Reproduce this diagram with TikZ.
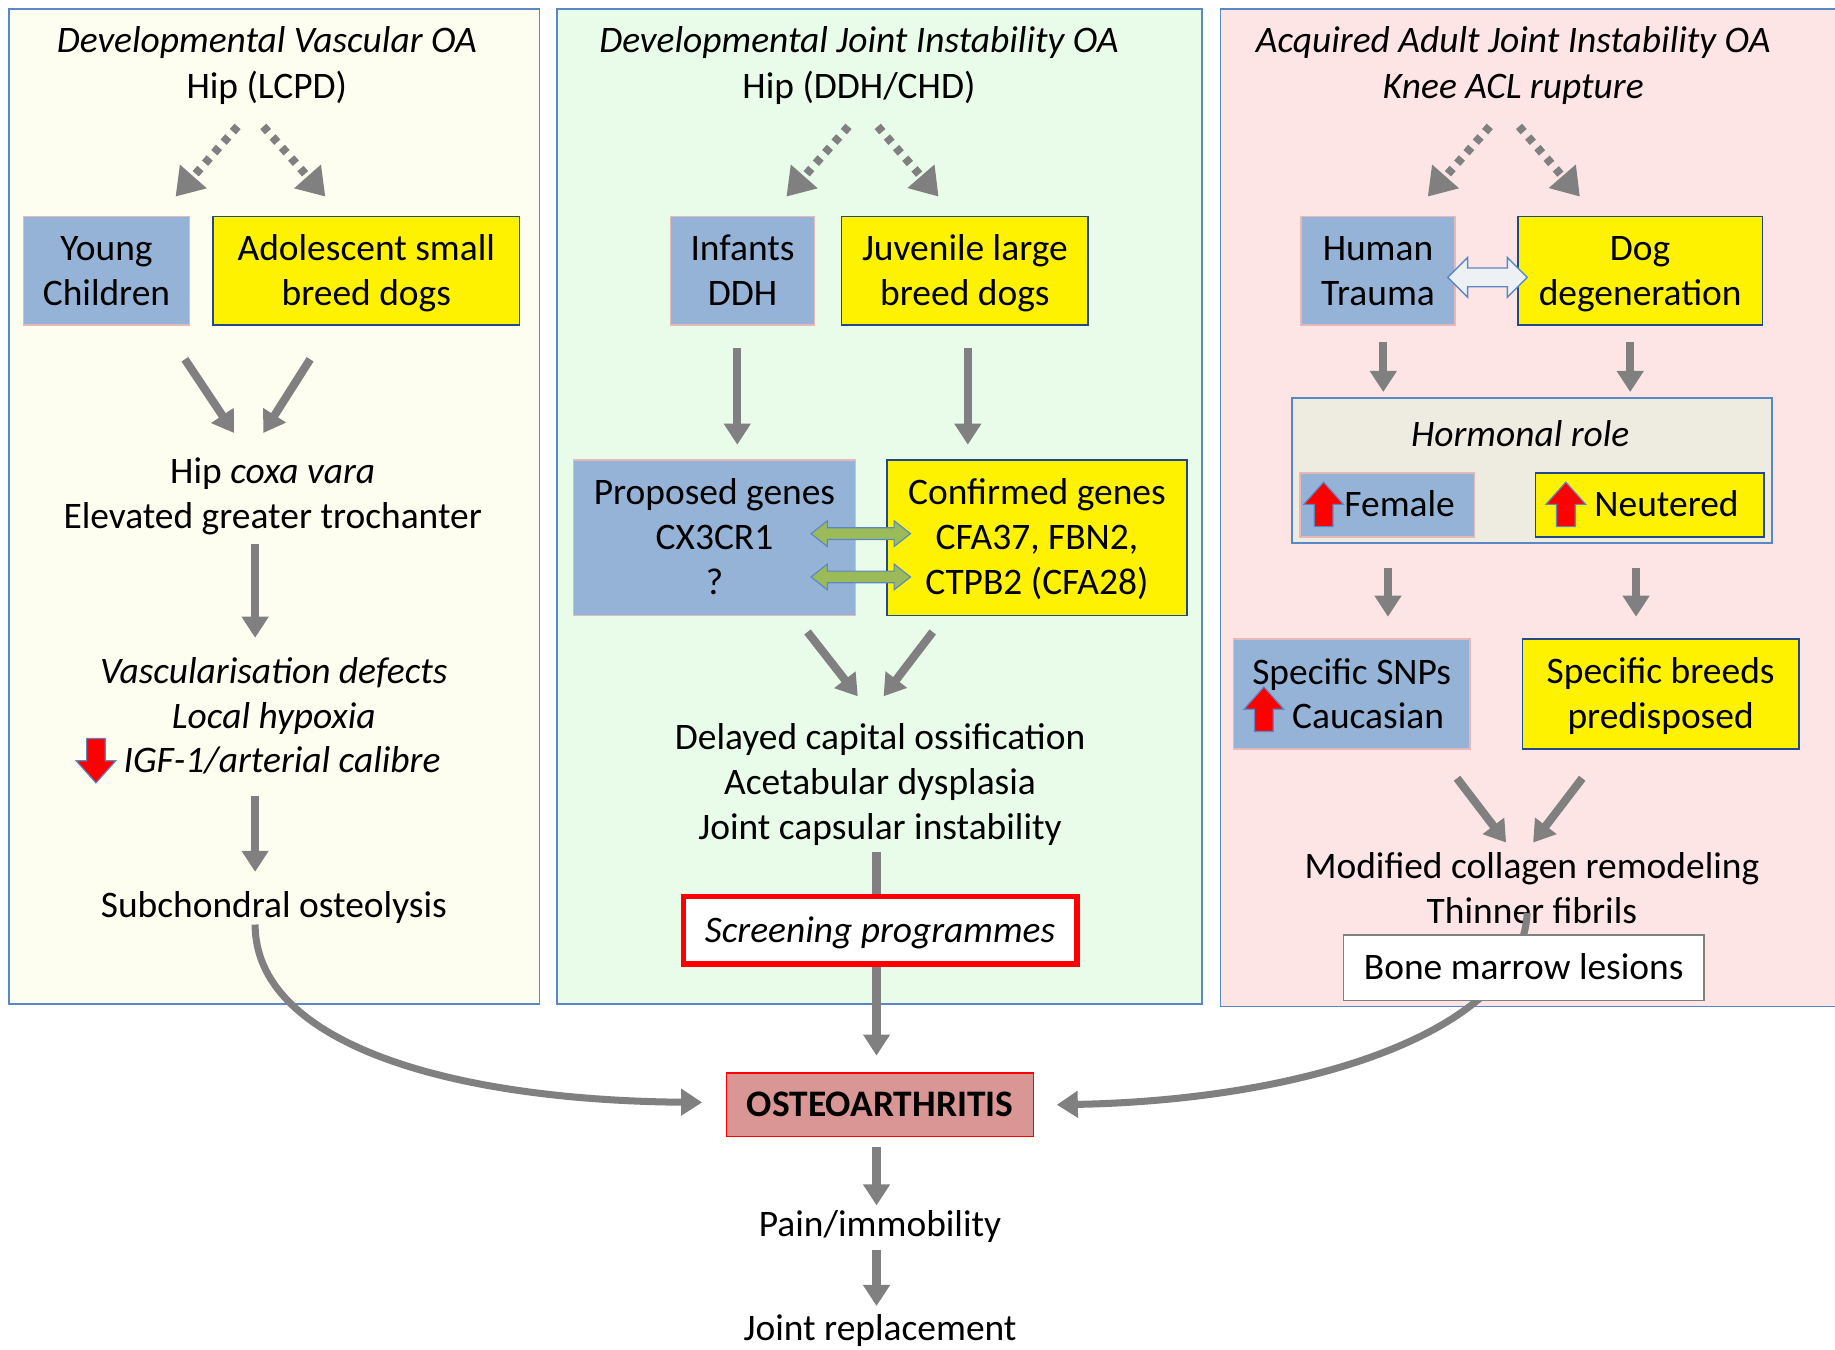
\documentclass[tikz,border=0pt]{standalone}
\usepackage{fontspec}
\setmainfont{Carlito}
\usetikzlibrary{arrows.meta}
\definecolor{panelY}{HTML}{FEFEF0}
\definecolor{panelG}{HTML}{E9FBE9}
\definecolor{panelR}{HTML}{FDE5E5}
\definecolor{pborder}{HTML}{5A88C6}
\definecolor{boxblue}{HTML}{95B3D7}
\definecolor{boxpink}{HTML}{E6B9B8}
\definecolor{boxnavy}{HTML}{24498A}
\definecolor{hrfill}{HTML}{EEECE1}
\definecolor{oafill}{HTML}{D99694}
\definecolor{arrgray}{HTML}{808080}
\definecolor{dgreen}{HTML}{9BBB59}
\definecolor{dblfill}{HTML}{EEF1F4}
\newcommand\fs{\fontsize{32}{38.5}\selectfont}
\newcommand\ls{\rule[-0.25em]{0pt}{1.14em}}
\newcommand\nl{\\\ls}
\tikzset{
  txt/.style={inner sep=0pt, align=center, font=\fs},
  box/.style={txt, line width=1.5pt},
  bluebox/.style={box, fill=boxblue, draw=boxpink},
  yelbox/.style={box, fill=yellow, draw=boxnavy},
  panel/.style={draw=pborder, line width=1.5pt},
  arr/.style={draw=arrgray, line width=7pt, -{Triangle[width=22pt,length=18pt]}},
  carr/.style={draw=arrgray, line width=6pt, -{Triangle[width=22pt,length=18pt]}},
  dotarr/.style={draw=arrgray, line width=7pt, dash pattern=on 6pt off 6pt, -{Triangle[width=29pt,length=23pt]}},
  redarrow/.style={fill=red, draw=pborder, line width=1pt, line join=miter},
  uparrow/.pic={\path[redarrow] (-8,19) -- (-8,0) -- (-17,0) -- (0,-19) -- (17,0) -- (8,0) -- (8,19) -- cycle;},
  downarrow/.pic={\path[redarrow] (-8,-19) -- (-8,0) -- (-17,0) -- (0,19) -- (17,0) -- (8,0) -- (8,-19) -- cycle;},
}
\begin{document}
\begin{tikzpicture}[x=1pt,y=-1pt]
\useasboundingbox (0,0) rectangle (1568,1153);
\fill[white] (0,0) rectangle (1568,1153);
% panels
\path[panel, fill=panelY] (8,8) rectangle (461,858);
\path[panel, fill=panelG] (476,8) rectangle (1027,858);
\path[panel, fill=panelR] (1043,8) rectangle (1590,860);

% ---------- panel 1 ----------
\node[txt, font=\fs\itshape] (t1a) at (228,35) {\ls Developmental Vascular OA};
\node[txt] (t1b) at (228,74) {\ls Hip (LCPD)};
\node[bluebox, minimum width=142pt, minimum height=93pt] (yc) at (91,231.5) {\ls Young\nl Children};
\node[yelbox, minimum width=262pt, minimum height=93pt] (asb) at (313,231.5) {\ls Adolescent small\nl breed dogs};
\node[txt] (hcv) at (233,422) {\ls Hip \textit{coxa vara}\nl Elevated greater trochanter};
\node[txt, font=\fs\itshape] (vd) at (234,593) {\ls Vascularisation defects\nl Local hypoxia};
\node[txt, font=\fs\itshape] (igf) at (241,650) {\ls IGF-1/arterial calibre};
\pic at (82,650) {downarrow};
\node[txt] (so) at (234,774) {\ls Subchondral osteolysis};

\coordinate (d1a) at (203,108); \coordinate (d1b) at (150,168);
\coordinate (d1c) at (225,108); \coordinate (d1d) at (278,168);
\draw[dotarr] (d1a) -- (d1b);
\draw[dotarr] (d1c) -- (d1d);
\coordinate (a1a) at (158,307); \coordinate (a1b) at (200,370);
\coordinate (a1c) at (265,307); \coordinate (a1d) at (225,370);
\draw[arr] (a1a) -- (a1b);
\draw[arr] (a1c) -- (a1d);
\coordinate (a1e) at (218,465); \coordinate (a1f) at (218,545);
\draw[arr] (a1e) -- (a1f);
\coordinate (a1g) at (218,680); \coordinate (a1h) at (218,745);
\draw[arr] (a1g) -- (a1h);

% ---------- panel 2 ----------
\node[txt, font=\fs\itshape] (t2a) at (734,35) {\ls Developmental Joint Instability OA};
\node[txt] (t2b) at (734,74) {\ls Hip (DDH/CHD)};
\node[bluebox, minimum width=123pt, minimum height=93pt] (inf) at (634.5,231.5) {\ls Infants\nl DDH};
\node[yelbox, minimum width=211pt, minimum height=93pt] (jlb) at (824.5,231.5) {\ls Juvenile large\nl breed dogs};
\node[bluebox, minimum width=241pt, minimum height=133pt] (pg) at (610.5,459.5) {\ls Proposed genes\nl CX3CR1\nl ?};
\node[yelbox, minimum width=256pt, minimum height=133pt] (cg) at (886,459.5) {\ls Confirmed genes\nl CFA37, FBN2,\nl CTPB2 (CFA28)};
% green double arrows
\foreach \yy in {456,493}{
  \path[fill=dgreen, draw=pborder, line width=1pt]
    (693,\yy) -- (707,\yy-11) -- (707,\yy-5) -- (764,\yy-5) -- (764,\yy-11) -- (778,\yy)
    -- (764,\yy+11) -- (764,\yy+5) -- (707,\yy+5) -- (707,\yy+11) -- cycle;
}
\node[txt] (dco) at (752,669) {\ls Delayed capital ossification\nl Acetabular dysplasia\nl Joint capsular instability};
\node[draw=red, line width=5pt, fill=white, minimum width=336pt, minimum height=58pt, inner sep=0pt, font=\fs\itshape] (scr) at (752,795) {\ls Screening programmes};

\coordinate (d2a) at (725,108); \coordinate (d2b) at (672,168);
\coordinate (d2c) at (750,108); \coordinate (d2d) at (802,168);
\draw[dotarr] (d2a) -- (d2b);
\draw[dotarr] (d2c) -- (d2d);
\coordinate (a2a) at (630,297); \coordinate (a2b) at (630,380);
\coordinate (a2c) at (827,297); \coordinate (a2d) at (827,380);
\draw[arr] (a2a) -- (a2b);
\draw[arr] (a2c) -- (a2d);
\coordinate (a2e) at (690,540); \coordinate (a2f) at (733,595);
\coordinate (a2g) at (797,540); \coordinate (a2h) at (755,595);
\draw[arr] (a2e) -- (a2f);
\draw[arr] (a2g) -- (a2h);
\coordinate (a2i) at (749,728);
\draw[draw=arrgray, line width=7pt] (a2i) -- (a2i |- scr.north);

% ---------- centre ----------
\node[draw=red, line width=1.2pt, fill=oafill, minimum width=262pt, minimum height=54pt, inner sep=0pt, font=\fs\bfseries] (oa) at (752,944) {\ls OSTEOARTHRITIS};
\node[txt] (pain) at (752,1046) {\ls Pain/immobility};
\node[txt] (jr) at (752,1135) {\ls Joint replacement};
\coordinate (c1) at (749,826); \coordinate (c2) at (749,902);
\draw[arr] (c1) -- (c2);
\coordinate (c3) at (749,980); \coordinate (c4) at (749,1030);
\draw[arr] (c3) -- (c4);
\coordinate (c5) at (749,1068); \coordinate (c6) at (749,1116);
\draw[arr] (c5) -- (c6);
\coordinate (l1) at (218,790); \coordinate (l2) at (600,942);
\draw[carr] (l1) .. controls (218,890) and (380,940) .. (l2);

% ---------- panel 3 ----------
\node[txt, font=\fs\itshape] (t3a) at (1293,35) {\ls Acquired Adult Joint Instability OA};
\node[txt, font=\fs\itshape] (t3b) at (1293,74) {\ls Knee ACL rupture};
\node[bluebox, minimum width=131pt, minimum height=93pt] (ht) at (1177.5,231.5) {\ls Human\nl Trauma};
\node[yelbox, minimum width=209pt, minimum height=93pt] (dd) at (1401.5,231.5) {\ls Dog\nl degeneration};
\path[fill=dblfill, draw=pborder, line width=1.2pt]
  (1237,237) -- (1254,220) -- (1254,229) -- (1288,229) -- (1288,220) -- (1305,237)
  -- (1288,254) -- (1288,245) -- (1254,245) -- (1254,254) -- cycle;
\node[draw=pborder, line width=1.5pt, fill=hrfill, minimum width=410pt, minimum height=124pt, inner sep=0pt] (hr) at (1309,402) {};
\node[txt, font=\fs\itshape] (hrt) at (1299,371) {\ls Hormonal role};
\node[bluebox, minimum width=149pt, minimum height=55pt] (fe) at (1185.5,431.5) {};
\node[txt] (fet) at (1196,431.5) {\ls Female};
\pic at (1131,431) {uparrow};
\node[yelbox, minimum width=195pt, minimum height=55pt] (ne) at (1409.5,431.5) {};
\node[txt] (net) at (1424,431.5) {\ls Neutered};
\pic at (1338,431) {uparrow};
\node[bluebox, minimum width=202pt, minimum height=94pt] (snp) at (1155,593) {};
\node[txt] (snpa) at (1155,575) {\ls Specific SNPs};
\node[txt] (snpb) at (1169,612) {\ls Caucasian};
\pic at (1080,606) {uparrow};
\node[yelbox, minimum width=236pt, minimum height=94pt] (sb) at (1419,593) {\ls Specific breeds\nl predisposed};
\node[txt] (mcr) at (1309,760) {\ls Modified collagen remodeling\nl Thinner fibrils};

\coordinate (d3a) at (1273,108); \coordinate (d3b) at (1220,168);
\coordinate (d3c) at (1298,108); \coordinate (d3d) at (1350,168);
\draw[dotarr] (d3a) -- (d3b);
\draw[dotarr] (d3c) -- (d3d);
\coordinate (a3a) at (1182,292); \coordinate (a3b) at (1182,335);
\coordinate (a3c) at (1393,292); \coordinate (a3d) at (1393,335);
\draw[arr] (a3a) -- (a3b);
\draw[arr] (a3c) -- (a3d);
\coordinate (a3e) at (1186,485); \coordinate (a3f) at (1186,527);
\coordinate (a3g) at (1398,485); \coordinate (a3h) at (1398,527);
\draw[arr] (a3e) -- (a3f);
\draw[arr] (a3g) -- (a3h);
\coordinate (a3i) at (1245,665); \coordinate (a3j) at (1287,720);
\coordinate (a3k) at (1352,665); \coordinate (a3l) at (1310,720);
\draw[arr] (a3i) -- (a3j);
\draw[arr] (a3k) -- (a3l);
\coordinate (r1) at (1305,780); \coordinate (r2) at (903,944);
\draw[carr] (r1) .. controls (1300,880) and (1120,940) .. (r2);
\node[draw=arrgray, line width=1.5pt, fill=white, minimum width=308pt, minimum height=56pt, inner sep=0pt, font=\fs] (bml) at (1302,827) {\ls Bone marrow lesions};
\end{tikzpicture}
\end{document}
